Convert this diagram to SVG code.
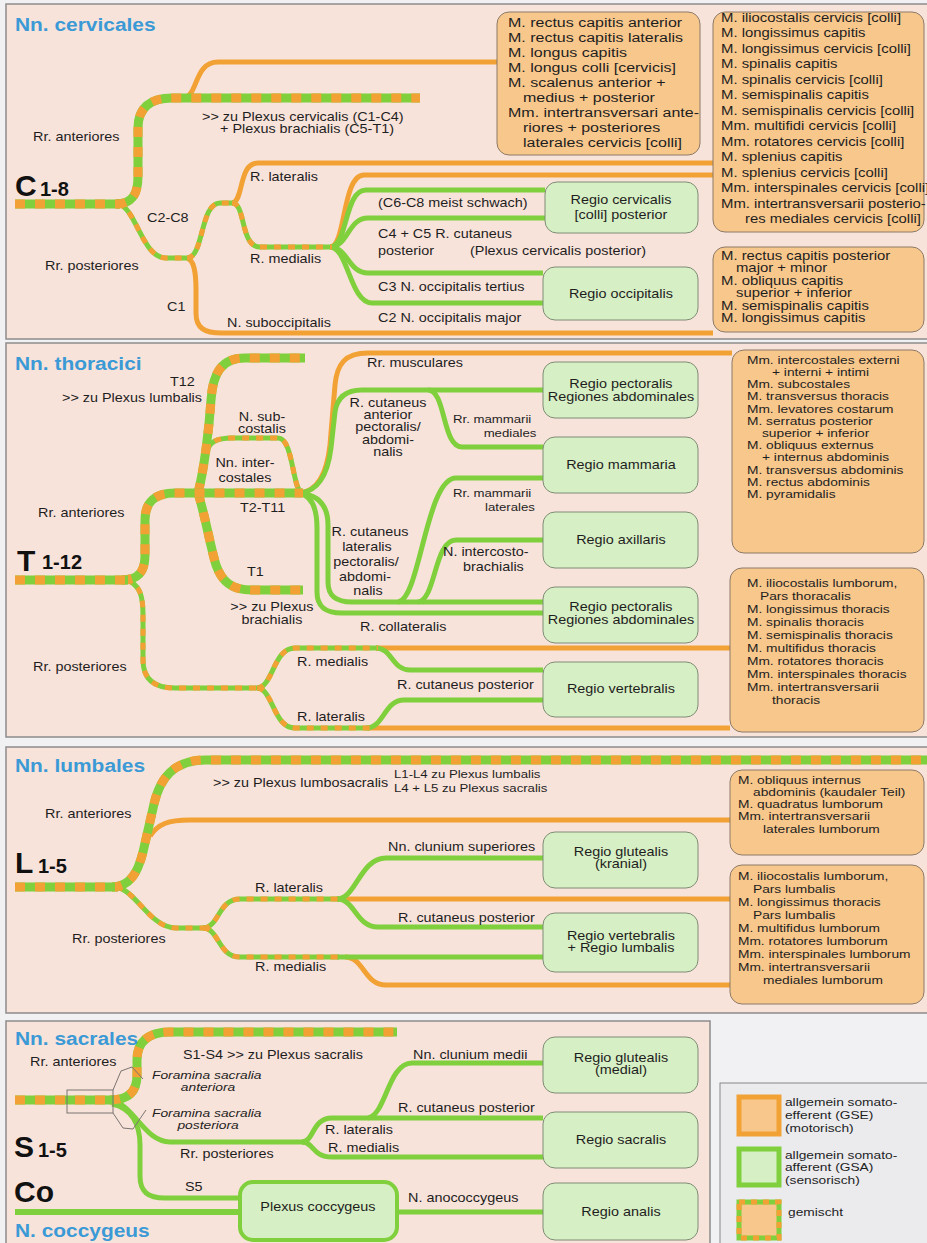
<svg xmlns="http://www.w3.org/2000/svg" width="927" height="1243" viewBox="0 0 927 1243">
<style>
text { font-family: "Liberation Sans", Arial, sans-serif; font-size: 12px; fill: #1e1e1e; transform-box: fill-box; transform-origin: left center; transform: scaleX(1.2); }
text.m { text-anchor: middle; transform-origin: center; }
text.ca { font-size: 12.5px; transform: scaleX(1.28); }
text.cb { font-size: 12px; transform: scaleX(1.24); }
text.bx { font-size: 11px; transform: scaleX(1.25); }
text.lg { font-size: 11px; transform: scaleX(1.25); }
text.sm { font-size: 11px; transform: scaleX(1.2); }
text.it { font-style: italic; font-size: 11.5px; }
text.ttl { font-weight: bold; font-size: 19px; fill: #3b9ad6; transform: scaleX(1.1); }
text.big { font-weight: bold; font-size: 30px; fill: #111; transform: none; }
text.sub { font-weight: bold; font-size: 20px; fill: #111; transform: none; }
.panel { fill: #f8e3da; stroke: #8c8c8c; stroke-width: 1.5; }
.mus { fill: #f8c78c; stroke: #8c7a66; stroke-width: 1; }
.reg { fill: #d7efc4; stroke: #7f8c76; stroke-width: 1; }
.o { fill: none; stroke: #f2a134; stroke-width: 5; }
.g { fill: none; stroke: #7fd03c; stroke-width: 5; }
.mg { fill: none; stroke: #7fd03c; stroke-width: 9; }
.mo { fill: none; stroke: #f2a134; stroke-width: 9; stroke-dasharray: 10 10; }
.tg { fill: none; stroke: #7fd03c; stroke-width: 5; }
.to { fill: none; stroke: #f2a134; stroke-width: 5; stroke-dasharray: 7 7; }
.fine { fill: none; stroke: #7a7470; stroke-width: 1; }
</style>
<defs>
<path id="cTrunk" d="M15,204 H120"/>
<path id="cAnt" d="M116,204 C134,204 138,192 138,176 L138,128 C138,108 150,98 172,98 H420"/>
<path id="cPost" d="M118,204 C136,207 142,258 166,258 H189"/>
<path id="cC2" d="M187,258 C204,258 200,203 220,203 H234"/>
<path id="cMed" d="M232,203 C246,203 240,247 260,247 H332"/>
<path id="tTrunk" d="M15,580 H128"/>
<path id="tAnt" d="M122,580 C140,580 145,570 145,555 L145,520 C145,502 155,493 175,493 H303"/>
<path id="tT12" d="M198,493 C204,470 209,430 211,400 C213,372 222,358 245,358 H305"/>
<path id="tT1" d="M198,493 C205,515 210,545 216,565 C222,582 232,590 252,590 H303"/>
<path id="tSub" d="M206,452 C210,442 216,438 232,438 H278 C294,438 292,493 303,493"/>
<path id="tPost" d="M126,580 C140,584 143,596 143,615 L143,660 C143,680 155,688 175,688 H259"/>
<path id="tMed" d="M257,688 C273,688 273,648 295,648 H378"/>
<path id="tLat" d="M257,688 C273,688 273,728 295,728 H370"/>
<path id="lTrunk" d="M15,887 H118"/>
<path id="lAnt" d="M112,887 C130,887 138,872 143,852 L154,804 C160,778 174,760 205,760 H927"/>
<path id="lPost" d="M116,887 C136,890 150,928 176,928 H205"/>
<path id="lLat" d="M203,928 C219,928 218,899 240,899 H339"/>
<path id="lMed" d="M203,928 C219,928 218,957 240,957 H339"/>
<path id="sTrunk" d="M15,1100 H114"/>
<path id="sAnt" d="M110,1100 C128,1100 137,1092 137,1075 L137,1060 C137,1042 148,1032 170,1032 H397"/>
</defs>

<rect x="0" y="0" width="927" height="1243" fill="#f1f0f3"/>

<g id="panels">
<rect class="panel" x="6" y="4" width="930" height="335"/>
<rect class="panel" x="6" y="343" width="930" height="394"/>
<rect class="panel" x="6" y="747" width="930" height="266"/>
<rect class="panel" x="6" y="1021" width="704" height="230"/>
</g>

<g id="connectors">
<!-- cervical -->
<path class="o" d="M184,98 C198,96 194,62 218,62 H497"/>
<path class="o" d="M232,203 C244,202 238,163 258,163 H713"/>
<path class="o" d="M330,247 C346,247 342,175 364,175 H713"/>
<path class="o" d="M187,258 C194,260 196,272 196,290 L196,313 C196,328 204,333 222,333 H713"/>
<path class="g" d="M330,247 C348,247 344,190 366,190 H545"/>
<path class="g" d="M330,247 C348,247 348,218 368,218 H545"/>
<path class="g" d="M330,247 C348,247 348,273 368,273 H543"/>
<path class="g" d="M330,247 C348,247 350,303 372,303 H543"/>
<use href="#cPost" class="tg"/><use href="#cPost" class="to"/>
<use href="#cC2" class="tg"/><use href="#cC2" class="to"/>
<use href="#cMed" class="tg"/><use href="#cMed" class="to"/>
<use href="#cAnt" class="mg"/><use href="#cAnt" class="mo"/>
<use href="#cTrunk" class="mg"/><use href="#cTrunk" class="mo"/>
<!-- thoracic -->
<path class="o" d="M300,493 C318,491 327,472 330,445 L335,385 C337,364 345,353 368,353 H732"/>
<path class="g" d="M300,493 C320,491 328,472 331,448 L335,412 C337,398 345,390 362,390 H543"/>
<path class="g" d="M428,390 C446,390 442,447 462,447 H543"/>
<path class="g" d="M300,493 C318,495 328,505 328,525 L328,582 C328,596 336,602 352,602 H543"/>
<path class="g" d="M300,493 C311,496 317,508 317,528 L317,592 C317,607 326,613 342,613 H543"/>
<path class="g" d="M398,602 C420,600 426,478 456,478 H543"/>
<path class="g" d="M418,602 C436,600 434,540 456,540 H543"/>
<path class="o" d="M376,648 H730"/>
<path class="o" d="M368,728 H730"/>
<path class="g" d="M376,648 C392,648 392,670 410,670 H543"/>
<path class="g" d="M366,728 C384,728 384,700 404,700 H543"/>
<use href="#tSub" class="tg"/><use href="#tSub" class="to"/>
<use href="#tPost" class="tg"/><use href="#tPost" class="to"/>
<use href="#tMed" class="tg"/><use href="#tMed" class="to"/>
<use href="#tLat" class="tg"/><use href="#tLat" class="to"/>
<use href="#tT12" class="mg"/><use href="#tT12" class="mo"/>
<use href="#tT1" class="mg"/><use href="#tT1" class="mo"/>
<use href="#tAnt" class="mg"/><use href="#tAnt" class="mo"/>
<use href="#tTrunk" class="mg"/><use href="#tTrunk" class="mo"/>
<!-- lumbar -->
<path class="o" d="M150,836 C158,824 168,820 190,820 H730"/>
<path class="o" d="M337,899 H730"/>
<path class="o" d="M345,957 C364,957 364,985 386,985 H730"/>
<path class="g" d="M337,899 C356,899 360,858 386,858 H543"/>
<path class="g" d="M337,899 C355,899 356,927 378,927 H543"/>
<path class="g" d="M337,957 H543"/>
<use href="#lPost" class="tg"/><use href="#lPost" class="to"/>
<use href="#lLat" class="tg"/><use href="#lLat" class="to"/>
<use href="#lMed" class="tg"/><use href="#lMed" class="to"/>
<use href="#lAnt" class="mg"/><use href="#lAnt" class="mo"/>
<use href="#lTrunk" class="mg"/><use href="#lTrunk" class="mo"/>
<!-- sacral -->
<path class="g" d="M110,1100 C134,1104 144,1142 170,1142 H304"/>
<path class="g" d="M302,1142 C314,1142 312,1118 332,1118 H543"/>
<path class="g" d="M302,1142 C314,1142 312,1157 332,1157 H543"/>
<path class="g" d="M368,1118 C386,1115 388,1063 412,1063 H543"/>
<path class="g" d="M112,1104 C132,1108 140,1125 140,1145 L140,1176 C140,1192 148,1198 165,1198 H240"/>
<path class="g" style="stroke-width:6" d="M15,1212 H240"/>
<path class="g" d="M397,1212 H543"/>
<use href="#sAnt" class="mg"/><use href="#sAnt" class="mo"/>
<use href="#sTrunk" class="mg"/><use href="#sTrunk" class="mo"/>
<rect class="fine" x="67" y="1090" width="46" height="23"/>
<path class="fine" d="M113,1090 L121,1071 L132,1067 L143,1079"/>
<path class="fine" d="M113,1113 L123,1128 L133,1129 L146,1110"/>
</g>

<g id="labels">
<text class="ttl" x="15" y="31">Nn. cervicales</text>
<text class="big" x="15" y="196">C</text><text class="sub" x="40" y="196">1-8</text>
<text x="33" y="141">Rr. anteriores</text>
<text x="202" y="121">&gt;&gt; zu Plexus cervicalis (C1-C4)</text>
<text class="m" x="307" y="133">+ Plexus brachialis (C5-T1)</text>
<text x="250" y="181">R. lateralis</text>
<text x="147" y="222">C2-C8</text>
<text x="45" y="270">Rr. posteriores</text>
<text x="250" y="263">R. medialis</text>
<text x="167" y="311">C1</text>
<text x="227" y="327">N. suboccipitalis</text>
<text x="378" y="207">(C6-C8 meist schwach)</text>
<text x="378" y="238">C4 + C5 R. cutaneus</text>
<text x="378" y="255">posterior</text>
<text x="470" y="255">(Plexus cervicalis posterior)</text>
<text x="378" y="291">C3 N. occipitalis tertius</text>
<text x="378" y="322">C2 N. occipitalis major</text>

<text class="ttl" x="15" y="370">Nn. thoracici</text>
<text class="big" x="17" y="571">T</text><text class="sub" x="42" y="569">1-12</text>
<text x="170" y="386">T12</text>
<text x="62" y="402">&gt;&gt; zu Plexus lumbalis</text>
<text class="m" x="262" y="421">N. sub-</text>
<text class="m" x="262" y="433">costalis</text>
<text class="m" x="245" y="467">Nn. inter-</text>
<text class="m" x="245" y="482">costales</text>
<text x="240" y="512">T2-T11</text>
<text x="38" y="517">Rr. anteriores</text>
<text x="367" y="367">Rr. musculares</text>
<text class="m" x="388" y="407">R. cutaneus</text>
<text class="m" x="388" y="419">anterior</text>
<text class="m" x="388" y="431">pectoralis/</text>
<text class="m" x="388" y="444">abdomi-</text>
<text class="m" x="388" y="456">nalis</text>
<text class="sm" x="453" y="423">Rr. mammarii</text>
<text class="sm m" x="510" y="437">mediales</text>
<text class="sm" x="453" y="497">Rr. mammarii</text>
<text class="sm m" x="510" y="511">laterales</text>
<text class="m" x="370" y="536">R. cutaneus</text>
<text class="m" x="367" y="551">lateralis</text>
<text class="m" x="366" y="566">pectoralis/</text>
<text class="m" x="365" y="581">abdomi-</text>
<text class="m" x="368" y="595">nalis</text>
<text x="443" y="556">N. intercosto-</text>
<text x="463" y="571">brachialis</text>
<text x="247" y="576">T1</text>
<text class="m" x="272" y="611">&gt;&gt; zu Plexus</text>
<text class="m" x="272" y="624">brachialis</text>
<text x="360" y="631">R. collateralis</text>
<text x="297" y="666">R. medialis</text>
<text x="397" y="689">R. cutaneus posterior</text>
<text x="297" y="721">R. lateralis</text>
<text x="33" y="671">Rr. posteriores</text>

<text class="ttl" x="15" y="772">Nn. lumbales</text>
<text class="big" x="15" y="873">L</text><text class="sub" x="38" y="873">1-5</text>
<text x="213" y="787">&gt;&gt; zu Plexus lumbosacralis</text>
<text class="sm" x="394" y="778">L1-L4 zu Plexus lumbalis</text>
<text class="sm" x="394" y="792">L4 + L5 zu Plexus sacralis</text>
<text x="45" y="818">Rr. anteriores</text>
<text x="388" y="851">Nn. clunium superiores</text>
<text x="255" y="892">R. lateralis</text>
<text x="398" y="922">R. cutaneus posterior</text>
<text x="72" y="943">Rr. posteriores</text>
<text x="255" y="971">R. medialis</text>

<text class="ttl" x="15" y="1045">Nn. sacrales</text>
<text x="30" y="1066">Rr. anteriores</text>
<text x="183" y="1059">S1-S4 &gt;&gt; zu Plexus sacralis</text>
<text class="it" x="152" y="1079">Foramina sacralia</text>
<text class="it m" x="208" y="1091">anteriora</text>
<text class="it" x="152" y="1117">Foramina sacralia</text>
<text class="it m" x="208" y="1129">posteriora</text>
<text class="big" x="14" y="1157">S</text><text class="sub" x="38" y="1157">1-5</text>
<text x="413" y="1059">Nn. clunium medii</text>
<text x="398" y="1112">R. cutaneus posterior</text>
<text x="325" y="1134">R. lateralis</text>
<text x="328" y="1152">R. medialis</text>
<text x="180" y="1158">Rr. posteriores</text>
<text x="185" y="1191">S5</text>
<text class="big" x="14" y="1202">Co</text>
<text class="ttl" x="15" y="1237">N. coccygeus</text>
<text x="408" y="1202">N. anococcygeus</text>
</g>

<g id="m-cervical-anterior">
<rect class="mus" x="497" y="12" width="203" height="143" rx="12"/>
<text class="ca" x="508" y="27">M. rectus capitis anterior</text>
<text class="ca" x="508" y="42">M. rectus capitis lateralis</text>
<text class="ca" x="508" y="57">M. longus capitis</text>
<text class="ca" x="508" y="72">M. longus colli [cervicis]</text>
<text class="ca" x="508" y="87">M. scalenus anterior +</text>
<text class="ca" x="523" y="102">medius + posterior</text>
<text class="ca" x="508" y="117">Mm. intertransversari ante-</text>
<text class="ca" x="523" y="132">riores + posteriores</text>
<text class="ca" x="523" y="147">laterales cervicis [colli]</text>
</g>
<g id="m-cervical-posterior">
<rect class="mus" x="713" y="12" width="211" height="220" rx="12"/>
<text class="cb" x="721" y="22">M. iliocostalis cervicis [colli]</text>
<text class="cb" x="721" y="37.5">M. longissimus capitis</text>
<text class="cb" x="721" y="53">M. longissimus cervicis [colli]</text>
<text class="cb" x="721" y="68.5">M. spinalis capitis</text>
<text class="cb" x="721" y="84">M. spinalis cervicis [colli]</text>
<text class="cb" x="721" y="99.5">M. semispinalis capitis</text>
<text class="cb" x="721" y="115">M. semispinalis cervicis [colli]</text>
<text class="cb" x="721" y="130.5">Mm. multifidi cervicis [colli]</text>
<text class="cb" x="721" y="146">Mm. rotatores cervicis [colli]</text>
<text class="cb" x="721" y="161.5">M. splenius capitis</text>
<text class="cb" x="721" y="177">M. splenius cervicis [colli]</text>
<text class="cb" x="721" y="192.5">Mm. interspinales cervicis [colli]</text>
<text class="cb" x="721" y="208">Mm. intertransversarii posterio-</text>
<text class="cb" x="745" y="223.5">res mediales cervicis [colli]</text>
</g>
<g id="m-suboccipital">
<rect class="mus" x="713" y="247" width="211" height="85" rx="12"/>
<text class="cb" x="721" y="260">M. rectus capitis posterior</text>
<text class="cb" x="736" y="272.5">major + minor</text>
<text class="cb" x="721" y="285">M. obliquus capitis</text>
<text class="cb" x="736" y="297.5">superior + inferior</text>
<text class="cb" x="721" y="310">M. semispinalis capitis</text>
<text class="cb" x="721" y="322.5">M. longissimus capitis</text>
</g>
<g id="r-cervicalis">
<rect class="reg" x="545" y="182" width="153" height="51" rx="12"/>
<text class="m" x="621" y="204">Regio cervicalis</text>
<text class="m" x="621" y="219">[colli] posterior</text>
</g>
<g id="r-occipitalis">
<rect class="reg" x="543" y="267" width="155" height="53" rx="12"/>
<text class="m" x="621" y="298">Regio occipitalis</text>
</g>

<g id="m-thoracic-anterior">
<rect class="mus" x="732" y="350" width="192" height="203" rx="12"/>
<text class="bx" x="747" y="364">Mm. intercostales externi</text>
<text class="bx" x="772" y="376">+ interni + intimi</text>
<text class="bx" x="747" y="388.5">Mm. subcostales</text>
<text class="bx" x="747" y="400.5">M. transversus thoracis</text>
<text class="bx" x="747" y="413">Mm. levatores costarum</text>
<text class="bx" x="747" y="425">M. serratus posterior</text>
<text class="bx" x="762" y="437">superior + inferior</text>
<text class="bx" x="747" y="449.5">M. obliquus externus</text>
<text class="bx" x="762" y="461.5">+ internus abdominis</text>
<text class="bx" x="747" y="474">M. transversus abdominis</text>
<text class="bx" x="747" y="486">M. rectus abdominis</text>
<text class="bx" x="747" y="498">M. pyramidalis</text>
</g>
<g id="m-thoracic-posterior">
<rect class="mus" x="730" y="568" width="194" height="164" rx="12"/>
<text class="bx" x="747" y="587">M. iliocostalis lumborum,</text>
<text class="bx" x="760" y="600">Pars thoracalis</text>
<text class="bx" x="747" y="613">M. longissimus thoracis</text>
<text class="bx" x="747" y="626">M. spinalis thoracis</text>
<text class="bx" x="747" y="639">M. semispinalis thoracis</text>
<text class="bx" x="747" y="652">M. multifidus thoracis</text>
<text class="bx" x="747" y="665">Mm. rotatores thoracis</text>
<text class="bx" x="747" y="678">Mm. interspinales thoracis</text>
<text class="bx" x="747" y="691">Mm. intertransversarii</text>
<text class="bx" x="772" y="704">thoracis</text>
</g>
<g id="r-pectoralis-1">
<rect class="reg" x="543" y="362" width="155" height="56" rx="12"/>
<text class="m" x="621" y="388">Regio pectoralis</text>
<text class="m" x="621" y="401">Regiones abdominales</text>
</g>
<g id="r-mammaria">
<rect class="reg" x="543" y="437" width="155" height="56" rx="12"/>
<text class="m" x="621" y="469">Regio mammaria</text>
</g>
<g id="r-axillaris">
<rect class="reg" x="543" y="512" width="155" height="56" rx="12"/>
<text class="m" x="621" y="544">Regio axillaris</text>
</g>
<g id="r-pectoralis-2">
<rect class="reg" x="543" y="587" width="155" height="56" rx="12"/>
<text class="m" x="621" y="611">Regio pectoralis</text>
<text class="m" x="621" y="624">Regiones abdominales</text>
</g>
<g id="r-vertebralis-t">
<rect class="reg" x="543" y="662" width="155" height="55" rx="12"/>
<text class="m" x="621" y="693">Regio vertebralis</text>
</g>

<g id="m-lumbar-anterior">
<rect class="mus" x="730" y="770" width="194" height="85" rx="12"/>
<text class="bx" x="738" y="784">M. obliquus internus</text>
<text class="bx" x="753" y="796">abdominis (kaudaler Teil)</text>
<text class="bx" x="738" y="808.5">M. quadratus lumborum</text>
<text class="bx" x="738" y="820.5">Mm. intertransversarii</text>
<text class="bx" x="763" y="833">laterales lumborum</text>
</g>
<g id="m-lumbar-posterior">
<rect class="mus" x="730" y="865" width="194" height="139" rx="12"/>
<text class="bx" x="738" y="880">M. iliocostalis lumborum,</text>
<text class="bx" x="753" y="893">Pars lumbalis</text>
<text class="bx" x="738" y="906">M. longissimus thoracis</text>
<text class="bx" x="753" y="919">Pars lumbalis</text>
<text class="bx" x="738" y="932">M. multifidus lumborum</text>
<text class="bx" x="738" y="945">Mm. rotatores lumborum</text>
<text class="bx" x="738" y="958">Mm. interspinales lumborum</text>
<text class="bx" x="738" y="971">Mm. intertransversarii</text>
<text class="bx" x="763" y="984">mediales lumborum</text>
</g>
<g id="r-glutealis-kranial">
<rect class="reg" x="543" y="832" width="155" height="56" rx="12"/>
<text class="m" x="621" y="856">Regio glutealis</text>
<text class="m" x="621" y="868">(kranial)</text>
</g>
<g id="r-vertebralis-l">
<rect class="reg" x="543" y="913" width="155" height="59" rx="12"/>
<text class="m" x="621" y="940">Regio vertebralis</text>
<text class="m" x="621" y="952">+ Regio lumbalis</text>
</g>

<g id="r-glutealis-medial">
<rect class="reg" x="543" y="1037" width="155" height="56" rx="12"/>
<text class="m" x="621" y="1062">Regio glutealis</text>
<text class="m" x="621" y="1074">(medial)</text>
</g>
<g id="r-sacralis">
<rect class="reg" x="543" y="1112" width="155" height="56" rx="12"/>
<text class="m" x="621" y="1144">Regio sacralis</text>
</g>
<g id="r-analis">
<rect class="reg" x="543" y="1183" width="155" height="57" rx="12"/>
<text class="m" x="621" y="1216">Regio analis</text>
</g>
<g id="plexus-coccygeus">
<rect class="reg" x="240" y="1182" width="157" height="58" rx="13" style="stroke:#7fd03c;stroke-width:4"/>
<text class="m" x="318" y="1211">Plexus coccygeus</text>
</g>

<g id="legend">
<rect x="720" y="1083" width="212" height="170" fill="#ebebee" stroke="#888" stroke-width="1"/>
<rect x="739" y="1097" width="40" height="37" fill="#f8c78c" stroke="#f2a134" stroke-width="5"/>
<text class="lg" x="785" y="1106">allgemein somato-</text>
<text class="lg" x="785" y="1119">efferent (GSE)</text>
<text class="lg" x="785" y="1132">(motorisch)</text>
<rect x="739" y="1149" width="40" height="36" fill="#d7efc4" stroke="#7fd03c" stroke-width="5"/>
<text class="lg" x="785" y="1159">allgemein somato-</text>
<text class="lg" x="785" y="1171">afferent (GSA)</text>
<text class="lg" x="785" y="1184">(sensorisch)</text>
<rect x="739" y="1202" width="40" height="36" fill="#f8c78c" stroke="#7fd03c" stroke-width="5"/>
<rect x="739" y="1202" width="40" height="36" fill="none" stroke="#f2a134" stroke-width="5" stroke-dasharray="6 6"/>
<text class="lg" x="788" y="1216">gemischt</text>
</g>
</svg>
